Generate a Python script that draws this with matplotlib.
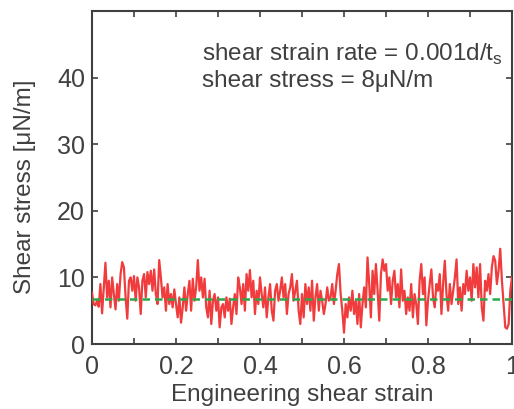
import numpy as np
import matplotlib
matplotlib.use("Agg")
import matplotlib.pyplot as plt

stress = [
    7.7, 6.0, 5.8, 6.5, 5.6,
    9.0, 4.6, 8.5, 12.2, 7.0,
    9.5, 5.5, 10.0, 7.5, 5.2,
    9.0, 6.5, 10.5, 12.3, 11.5,
    7.0, 3.8, 9.5, 10.0, 8.0,
    10.2, 6.5, 10.0, 8.5, 4.5,
    9.5, 10.5, 7.0, 10.8, 9.0,
    11.0, 8.0, 11.2, 7.5, 6.0,
    12.6, 10.0, 7.0, 8.5, 5.0,
    9.0, 6.0, 7.5, 5.5, 8.2,
    6.0, 4.0, 7.0, 3.2, 5.5,
    8.5, 5.0, 7.5, 9.5, 5.0,
    9.8, 6.5, 8.5, 12.6, 8.0,
    10.0, 7.0, 9.8, 5.5, 4.0,
    8.0, 3.0, 6.5, 7.5, 5.0,
    7.0, 2.5, 5.5, 6.0, 4.0,
    7.0, 5.0, 6.8, 3.0, 5.5,
    7.5, 4.5, 10.0, 8.5, 6.0,
    9.0, 5.0, 10.5, 8.0, 11.1,
    7.0, 9.5, 4.5, 8.0, 6.0,
    10.0, 7.5, 5.5, 8.5, 4.0,
    7.0, 9.0, 5.0, 3.5, 8.0,
    9.0, 6.5, 8.0, 10.0, 7.0,
    9.0, 4.5, 7.5, 8.5, 10.5,
    6.5, 8.0, 9.5, 5.0, 3.0,
    7.5, 4.0, 9.0, 6.0, 8.5,
    5.0, 9.5, 3.5, 7.0, 9.0,
    5.0, 8.0, 6.5, 4.5, 6.0,
    8.5, 6.5, 7.0, 9.0, 6.0,
    8.0, 10.5, 12.0, 7.5, 5.0,
    1.7, 6.0, 4.0, 7.0, 5.0,
    8.0, 4.5, 6.5, 3.0, 7.5,
    2.5, 6.0, 8.5, 5.5, 13.0,
    9.0, 4.0, 11.0, 7.5, 12.0,
    8.0, 3.5, 10.5, 12.7, 11.0,
    12.0, 8.0, 10.0, 6.0, 9.5,
    11.0, 7.0, 9.0, 5.5, 11.2,
    6.5, 8.0, 4.5, 7.0, 5.0,
    9.0, 4.0, 7.5, 6.0, 3.0,
    9.5, 12.0, 7.5, 10.0, 2.8,
    6.5, 9.0, 11.2, 7.0, 5.5,
    9.0, 8.0, 10.5, 4.5, 9.0,
    12.5, 7.5, 5.0, 9.0, 6.0,
    8.0, 10.0, 12.7, 6.0, 8.5,
    5.0, 9.0, 7.5, 11.0, 8.0,
    10.0, 6.5, 12.0, 8.5, 11.5,
    7.0, 12.0, 5.5, 3.5, 9.5,
    8.0, 10.5, 7.5, 11.5, 13.2,
    12.5, 9.0, 11.0, 14.3, 9.5,
    6.0, 2.5, 2.3, 3.0, 8.0,
    10.0,
]
strain = np.linspace(0, 1, len(stress))
mean_stress = 6.8

xticks = [0, 0.1, 0.2, 0.3, 0.4, 0.5, 0.6, 0.7, 0.8, 0.9, 1.0]
xticklabels = ["0", "", "0.2", "", "0.4", "", "0.6", "", "0.8", "", "1"]
yticks = [0, 10, 20, 30, 40]
yticklabels = ["0", "10", "20", "30", "40"]

plt.rcParams['font.family'] = ['Liberation Sans', 'DejaVu Sans']
gray = "#404040"

fig = plt.figure(figsize=(5.14, 4.09), dpi=100)
ax = fig.add_axes([92/514, 65/409, 420/514, 333/409])

ax.plot(strain, stress, color="#f03c3c", lw=1.6, zorder=3)
ax.axhline(mean_stress, color="#2aa84a", lw=1.8, ls=(0, (3.0, 2.0)), zorder=4)

ax.set_xlim(0, 1)
ax.set_ylim(0, 50)
ax.set_xticks(xticks)
ax.set_xticklabels(xticklabels)
ax.set_yticks(yticks)
ax.set_yticklabels(yticklabels)
ax.tick_params(direction="in", length=4, width=1.2, colors=gray, labelsize=18,
               top=True, right=True, pad=5)
ax.tick_params(axis="x", pad=8)
for s in ax.spines.values():
    s.set_color(gray)
    s.set_linewidth(1.5)

ax.set_xlabel("Engineering shear strain", fontsize=17.5, color=gray, labelpad=3.5)
ax.set_ylabel("Shear stress [μN/m]", fontsize=17.5, color=gray)
ax.yaxis.set_label_coords(-0.133, 0.471)

ax.text(0.262, 0.871, "shear strain rate = 0.001d/t$_\\mathregular{s}$", transform=ax.transAxes,
        fontsize=17.5, color=gray, va="center", ha="left")
ax.text(0.262, 0.790, "shear stress = 8μN/m", transform=ax.transAxes,
        fontsize=17.5, color=gray, va="center", ha="left")

fig.savefig("out.png", dpi=100)
